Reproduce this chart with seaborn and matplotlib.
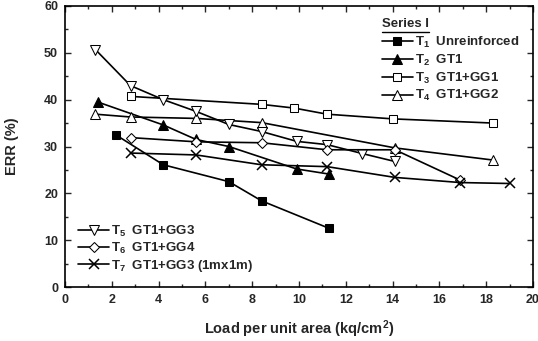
import matplotlib
matplotlib.use("Agg")
import matplotlib.pyplot as plt
import seaborn as sns
import pandas as pd
from matplotlib.lines import Line2D

# ---- data ----
t1_x = [2.2, 4.2, 7.0, 8.4, 11.3]
t1_y = [32.4, 26.1, 22.5, 18.4, 12.5]
t2_x = [1.4, 4.2, 5.6, 7.0, 9.9, 11.3]
t2_y = [39.5, 34.6, 31.5, 30.0, 25.2, 24.1]
t3_x = [2.8, 8.4, 9.8, 11.2, 14.0, 18.3]
t3_y = [40.7, 39.0, 38.2, 36.9, 35.9, 35.0]
t4_x = [1.3, 2.8, 5.6, 8.4, 14.1, 18.3]
t4_y = [36.9, 36.3, 36.0, 35.1, 29.7, 27.1]
t5_x = [1.3, 2.8, 4.2, 5.6, 7.0, 8.4, 9.9, 11.2, 12.7, 14.1]
t5_y = [50.7, 43.0, 40.0, 37.5, 34.7, 33.2, 31.1, 30.4, 28.5, 26.8]
t6_x = [2.8, 5.6, 8.4, 11.2, 14.1, 16.9]
t6_y = [31.9, 31.0, 30.8, 29.3, 29.3, 22.8]
t7_x = [2.8, 5.6, 8.4, 11.2, 14.1, 16.9, 19.0]
t7_y = [28.6, 28.2, 26.1, 25.7, 23.4, 22.3, 22.1]

labels = [r"$T_1$  Unreinforced", r"$T_2$  GT1", r"$T_3$  GT1+GG1",
          r"$T_4$  GT1+GG2", r"$T_5$  GT1+GG3", r"$T_6$  GT1+GG4",
          r"$T_7$  GT1+GG3 (1mx1m)"]
legend_title = "Series I"
x_ticks = [0, 2, 4, 6, 8, 10, 12, 14, 16, 18, 20]
y_ticks = [0, 10, 20, 30, 40, 50, 60]

sns.set_style("ticks")
plt.rcParams['font.family'] = ['Liberation Sans', 'DejaVu Sans']
plt.rcParams['font.weight'] = 'bold'
plt.rcParams['mathtext.fontset'] = 'custom'
plt.rcParams['mathtext.rm'] = 'Liberation Sans:bold'
plt.rcParams['mathtext.it'] = 'Liberation Sans:bold'
plt.rcParams['mathtext.bf'] = 'Liberation Sans:bold'

fig = plt.figure(figsize=(5.38, 3.41), dpi=100)
ax = fig.add_axes([65/538, 1-287/341, 468/538, 281/341])

series = [
    (t1_x, t1_y, dict(marker='s', markerfacecolor='black', markersize=5.5)),
    (t2_x, t2_y, dict(marker='^', markerfacecolor='black', markersize=6.5)),
    (t3_x, t3_y, dict(marker='s', markerfacecolor='white', markersize=5.5)),
    (t4_x, t4_y, dict(marker='^', markerfacecolor='white', markersize=6.5)),
    (t5_x, t5_y, dict(marker='v', markerfacecolor='white', markersize=6.5)),
    (t6_x, t6_y, dict(marker='D', markerfacecolor='white', markersize=5)),
    (t7_x, t7_y, dict(marker='x', markersize=6.5, markeredgewidth=1.1)),
]

handles = []
for (xs, ys, kw), lab in zip(series, labels):
    df = pd.DataFrame({"x": xs, "y": ys})
    sns.lineplot(data=df, x="x", y="y", ax=ax, color='black', linewidth=1.2,
                 markeredgecolor='black', sort=False, estimator=None, label=lab,
                 legend=False, **kw)
    handles.append(ax.get_lines()[-1])

ax.set_xlim(0, 20)
ax.set_ylim(0, 60)
ax.set_xticks(x_ticks)
ax.set_yticks(y_ticks)
ax.set_xticks([v + 1 for v in x_ticks[:-1]], minor=True)
ax.set_yticks([v + 5 for v in y_ticks[:-1]], minor=True)
ax.tick_params(which='both', direction='in', top=True, right=True,
               labelsize=9, width=1)
ax.tick_params(which='major', length=4, pad=5)
ax.tick_params(which='minor', length=2)
for s in ax.spines.values():
    s.set_linewidth(1.2)
    s.set_color('black')
for t in ax.get_xticklabels() + ax.get_yticklabels():
    t.set_fontweight('bold')

ax.set_xlabel(r"Load per unit area (kq/cm$^2$)", fontsize=10.5, fontweight='bold', labelpad=9)
ax.set_ylabel("ERR (%)", fontsize=10.5, fontweight='bold', labelpad=18)

leg1 = ax.legend(handles=handles[:4], labels=labels[:4], loc='upper left',
                 bbox_to_anchor=(0.677, 0.897), frameon=False, fontsize=9.5,
                 handlelength=2.35, handletextpad=0.15, labelspacing=0.2,
                 borderpad=0, borderaxespad=0)
ax.add_artist(leg1)
leg2 = ax.legend(handles=handles[4:], labels=labels[4:], loc='upper left',
                 bbox_to_anchor=(0.028, 0.226), frameon=False, fontsize=9.5,
                 handlelength=2.35, handletextpad=0.15, labelspacing=0.15,
                 borderpad=0, borderaxespad=0)

title = ax.text(0.677, 0.935, legend_title, transform=ax.transAxes, fontsize=9.5,
                fontweight='bold', ha='left', va='center')
fig.canvas.draw()
bb = title.get_window_extent().transformed(ax.transAxes.inverted())
ax.add_line(Line2D([bb.x0, bb.x1], [bb.y0 - 0.006, bb.y0 - 0.006],
                   transform=ax.transAxes, color='black', linewidth=1.0))

fig.savefig("out.png", dpi=100)
